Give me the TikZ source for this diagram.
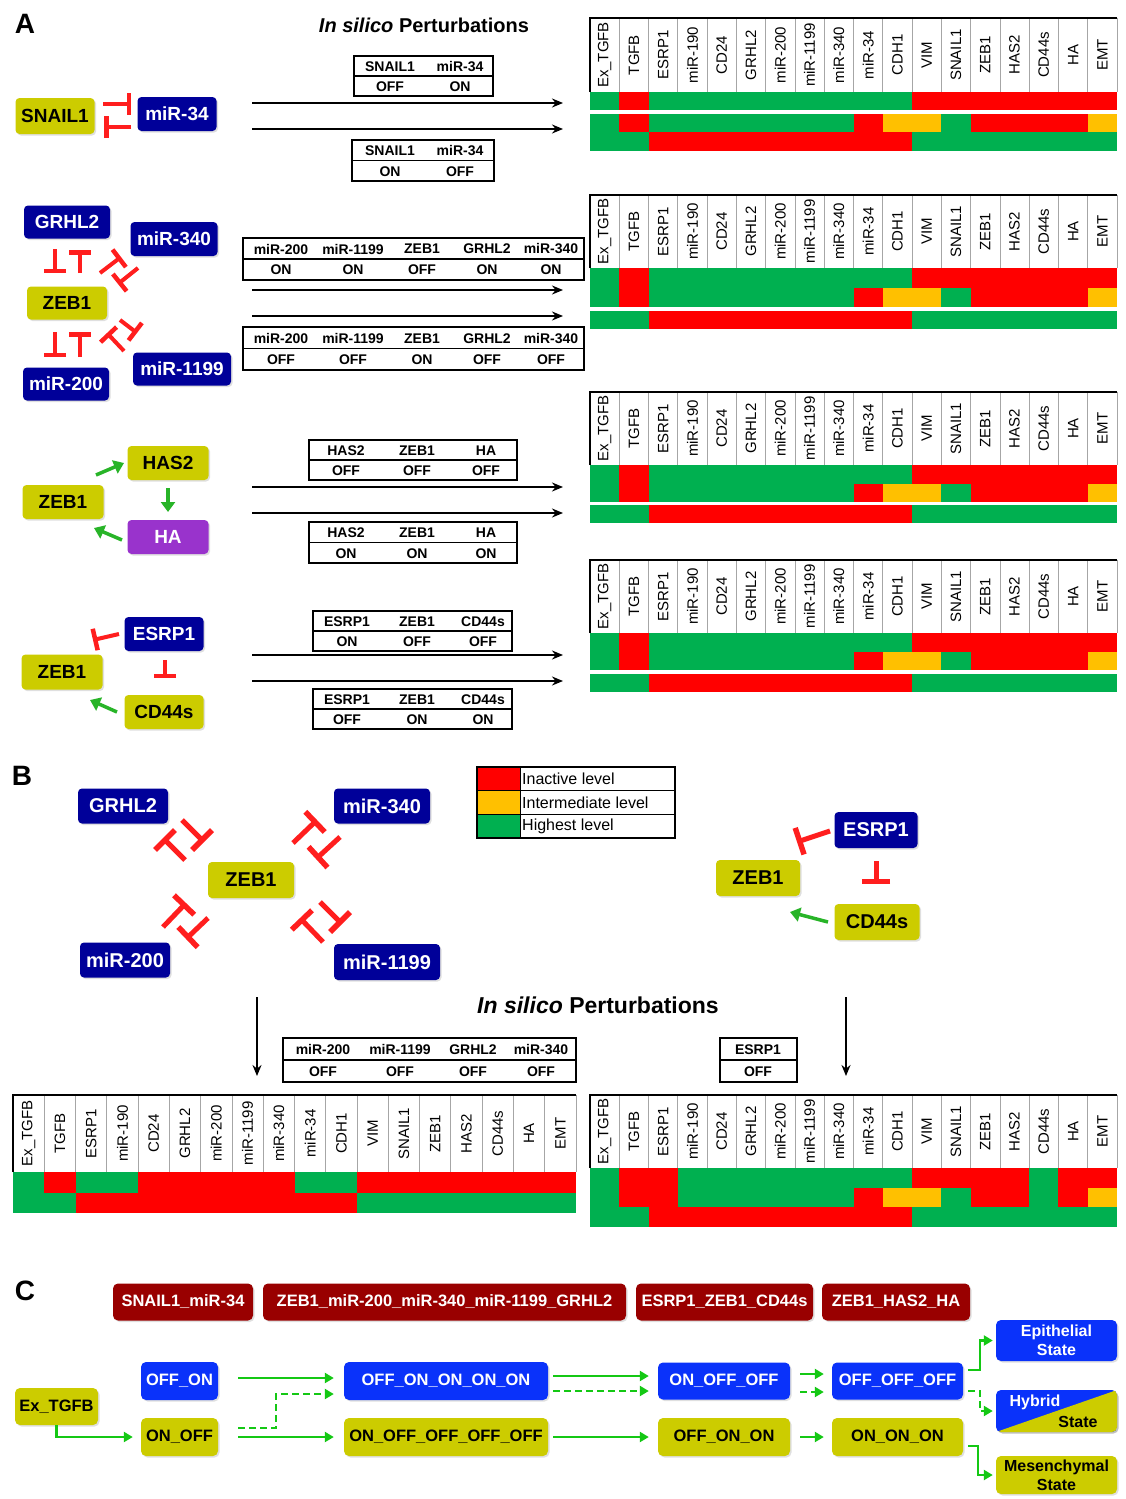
\documentclass[tikz,border=0pt]{standalone}
\usepackage{fontspec}
\setmainfont{Liberation Sans}
\usetikzlibrary{arrows.meta,shadows,calc}
\definecolor{navy}{RGB}{0,0,153}
\definecolor{oliv}{RGB}{204,204,0}
\definecolor{purp}{RGB}{153,51,204}
\definecolor{cblue}{RGB}{10,50,250}
\definecolor{dred}{RGB}{153,0,0}
\definecolor{tred}{RGB}{255,30,30}
\definecolor{agreen}{RGB}{40,180,40}
\definecolor{cgreen}{RGB}{20,200,20}
\definecolor{hmR}{RGB}{255,0,0}
\definecolor{hmO}{RGB}{255,192,0}
\definecolor{hmG}{RGB}{0,176,80}
\newcommand\hmcols{Ex\_TGFB,TGFB,ESRP1,miR-190,CD24,GRHL2,miR-200,miR-1199,miR-340,miR-34,CDH1,VIM,SNAIL1,ZEB1,HAS2,CD44s,HA,EMT}
\newcommand\hmrA{G,R,G,G,G,G,G,G,G,G,G,R,R,R,R,R,R,R}
\newcommand\hmrB{G,R,G,G,G,G,G,G,G,R,O,O,G,R,R,R,R,O}
\newcommand\hmrC{G,G,R,R,R,R,R,R,R,R,R,G,G,G,G,G,G,G}
\newcommand\hmrD{G,R,G,G,R,R,R,R,R,G,G,R,R,R,R,R,R,R}
\newcommand\hmrE{G,R,R,G,G,G,G,G,G,G,G,R,R,R,R,G,R,R}
\newcommand\hmrF{G,R,R,G,G,G,G,G,G,R,O,O,G,R,R,G,R,O}
% header: x0 y0 x1 y1 prefix
\newcommand\hmhead[5]{%
  \pgfmathsetmacro\hmcw{(#3-#1)/18}%
  \foreach \lab [count=\i] in \hmcols {%
    \pgfmathsetmacro\hmx{#1+(\i-0.5)*\hmcw}%
    \node[hdr] (#5h\i) at (\hmx,{(#2+#4)/2}) {\lab};
    \ifnum\i>1 \draw[hmline] ({#1+(\i-1)*\hmcw},#2) -- ({#1+(\i-1)*\hmcw},#4);\fi
  }%
  \draw[hmline] (#3,#2) -- (#3,#4);
  \draw[line width=1.6pt] (#1,#4) -- (#1,#2) -- (#3,#2);
}
% row: x0 x1 ytop ybot colours
\newcommand\hmrow[5]{%
  \pgfmathsetmacro\hmcw{(#2-#1)/18}%
  \foreach \c [count=\i] in #5 {%
    \pgfmathsetmacro\hmxa{#1+(\i-1)*\hmcw}%
    \pgfmathsetmacro\hmxb{min(#1+\i*\hmcw+0.6,#2)}%
    \fill[fill=hm\c] (\hmxa,#3) rectangle (\hmxb,#4);
  }%
}
% table: x0 y0 x1 y1 prefix entries
\newcommand\ptab[6]{%
  \draw[tabline] (#1,#2) rectangle (#3,#4);
  \draw[tabline] (#1,{(#2+#4)/2}) -- (#3,{(#2+#4)/2});
  \foreach \cx/\tp/\bt [count=\i] in {#6} {%
    \node[tabtxt] (#5t\i) at (\cx,{#2+(#4-#2)/4+0.5}) {\tp};
    \node[tabtxt] (#5b\i) at (\cx,{#2+3*(#4-#2)/4+0.5}) {\bt};
  }%
}
\begin{document}
\begin{tikzpicture}[x=1pt,y=-1pt,
  hdr/.style={rotate=90,inner sep=0pt,font=\fontsize{15}{17}\selectfont},
  hmline/.style={draw=gray!70,line width=0.8pt},
  tabline/.style={draw=black,line width=1.3pt},
  tabtxt/.style={inner sep=0pt,font=\fontsize{14}{16}\selectfont\bfseries},
  plab/.style={font=\fontsize{28}{30}\selectfont\bfseries},
  netbase/.style={rounded corners=4pt,inner sep=1pt,font=\fontsize{19}{21}\selectfont\bfseries,
     drop shadow={opacity=.25,shadow xshift=1.5pt,shadow yshift=-1.5pt}},
  nv/.style={netbase,fill=navy,text=white},
  ol/.style={netbase,fill=oliv,text=black},
  pu/.style={netbase,fill=purp,text=white},
  nbB/.style={font=\fontsize{20}{22}\selectfont\bfseries},
  sz/.style 2 args={minimum width=#1,minimum height=#2},
  cbase/.style={rounded corners=5pt,inner sep=1pt,font=\fontsize{16.5}{19}\selectfont\bfseries,
     drop shadow={opacity=.25,shadow xshift=1.5pt,shadow yshift=-1.5pt}},
  cr/.style={cbase,fill=dred,text=white},
  cb/.style={cbase,fill=cblue,text=white},
  co/.style={cbase,fill=oliv,text=black},
  inhA/.style={draw=tred,line width=4pt,-{Bar[width=22pt,line width=4.5pt]}},
  inhB/.style={draw=tred,line width=5pt,-{Bar[width=28pt,line width=5.5pt]}},
  act/.style={draw=agreen,line width=3.5pt,-{Triangle[length=10pt,width=14pt]}},
  parrow/.style={draw=black,line width=1.8pt,-{Stealth[length=11pt,width=9pt]}},
  carrow/.style={draw=cgreen,line width=2.6pt,-{Triangle[length=9pt,width=10pt]}},
  cdash/.style={carrow,dash pattern=on 7pt off 4pt},
  legtxt/.style={anchor=west,inner sep=0pt,font=\fontsize{16}{18}\selectfont}
]
\useasboundingbox (0,0) rectangle (1126,1499);
\fill[white] (0,0) rectangle (1126,1499);

% ---------- panel labels & titles
\node[plab] (labA) at (25,24) {A};
\node[plab] (labB) at (22,776) {B};
\node[plab] (labC) at (25,1291) {C};
\node[font=\fontsize{20}{22}\selectfont\bfseries] (titA) at (424,25) {\textit{In silico} Perturbations};
\node[font=\fontsize{23}{25}\selectfont\bfseries] (titB) at (598,1005) {\textit{In silico} Perturbations};

% ---------- A1
\node[ol,sz={79}{36}] (snail) at (55,116) {SNAIL1};
\node[nv,sz={79}{34}] (mir34) at (177,114) {miR-34};
\draw[inhA] (103,104) -- (131,104);
\draw[inhA] (131,127) -- (104,127);

% ---------- A2
\node[nv,sz={86}{33}] (grhl2) at (67,222) {GRHL2};
\node[nv,sz={87}{34}] (mir340) at (174,239) {miR-340};
\node[ol,sz={80}{33}] (zebA2) at (67,303) {ZEB1};
\node[nv,sz={86}{33}] (mir200) at (66,384) {miR-200};
\node[nv,sz={98}{33}] (mir1199) at (182,369) {miR-1199};
\draw[inhA] (55,249) -- (55,273);
\draw[inhA] (80,273) -- (80,250);
\draw[inhA] (55,332) -- (55,357);
\draw[inhA] (80,357) -- (80,332);
\draw[inhA] (100,273) -- (121,257);
\draw[inhA] (138,268) -- (118,284);
\draw[inhA] (124,351) -- (107,333);
\draw[inhA] (120,320) -- (137,333);

% ---------- A3
\node[ol,sz={81}{34}] (zebA3) at (63,502) {ZEB1};
\node[ol,sz={81}{34}] (has2) at (168,463) {HAS2};
\node[pu,sz={81}{34}] (ha) at (168,537) {HA};
\draw[act] (96,475) -- (124,463);
\draw[act] (168,488) -- (168,512);
\draw[act] (122,540) -- (94,528);

% ---------- A4
\node[ol,sz={81}{35}] (zebA4) at (62,672) {ZEB1};
\node[nv,sz={79}{34}] (esrp) at (164,634) {ESRP1};
\node[ol,sz={79}{34}] (cd44) at (164,712) {CD44s};
\draw[inhA] (119,634) -- (93,640);
\draw[inhA] (165,660) -- (165,678);
\draw[act] (117,712) -- (90,700);

% ---------- A tables and arrows
\ptab{354}{56}{493}{96}{tA}{390/SNAIL1/OFF, 460/miR-34/ON}
\ptab{352}{140}{494}{181}{tB}{390/SNAIL1/ON, 460/miR-34/OFF}
\ptab{243}{238}{584}{280}{tC}{281/miR-200/ON, 353/miR-1199/ON, 422/ZEB1/OFF, 487/GRHL2/ON, 551/miR-340/ON}
\ptab{243}{327}{584}{370}{tD}{281/miR-200/OFF, 353/miR-1199/OFF, 422/ZEB1/ON, 487/GRHL2/OFF, 551/miR-340/OFF}
\ptab{309}{440}{517}{480}{tE}{346/HAS2/OFF, 417/ZEB1/OFF, 486/HA/OFF}
\ptab{309}{522}{517}{563}{tF}{346/HAS2/ON, 417/ZEB1/ON, 486/HA/ON}
\ptab{313}{611}{512}{651}{tG}{347/ESRP1/ON, 417/ZEB1/OFF, 483/CD44s/OFF}
\ptab{313}{689}{512}{729}{tH}{347/ESRP1/OFF, 417/ZEB1/ON, 483/CD44s/ON}
\foreach \yy [count=\k] in {103,129,290,316,487,513,655,681}{
  \coordinate (as\k) at (252,\yy);
  \coordinate (ae\k) at (563,\yy);
  \draw[parrow] (as\k) -- (ae\k);
}

% ---------- A heatmaps
\hmhead{590}{18}{1117}{92}{hA}
\hmrow{590}{1117}{92}{110}{\hmrA}
\hmrow{590}{1117}{114}{132}{\hmrB}
\hmrow{590}{1117}{132}{151}{\hmrC}

\hmhead{590}{195}{1117}{268}{hB}
\hmrow{590}{1117}{268}{288}{\hmrA}
\hmrow{590}{1117}{288}{307}{\hmrB}
\hmrow{590}{1117}{311}{329}{\hmrC}

\hmhead{590}{392}{1117}{465}{hC}
\hmrow{590}{1117}{465}{484}{\hmrA}
\hmrow{590}{1117}{484}{502}{\hmrB}
\hmrow{590}{1117}{505}{523}{\hmrC}

\hmhead{590}{560}{1117}{633}{hD}
\hmrow{590}{1117}{633}{652}{\hmrA}
\hmrow{590}{1117}{652}{670}{\hmrB}
\hmrow{590}{1117}{674}{692}{\hmrC}

% ---------- B network
\node[nv,nbB,sz={90}{35}] (grhlB) at (123,806) {GRHL2};
\node[nv,nbB,sz={96}{35}] (m340B) at (382,806) {miR-340};
\node[ol,nbB,sz={86}{36}] (zebB) at (251,880) {ZEB1};
\node[nv,nbB,sz={90}{35}] (m200B) at (125,960) {miR-200};
\node[nv,nbB,sz={106}{36}] (m1199B) at (387,962) {miR-1199};
\draw[inhB] (185,860) -- (163,838);
\draw[inhB] (182,820) -- (204,842);
\draw[inhB] (293,843) -- (317,820);
\draw[inhB] (340,837) -- (316,859);
\draw[inhB] (163,927) -- (186,903);
\draw[inhB] (208,918) -- (186,939);
\draw[inhB] (323,942) -- (300,918);
\draw[inhB] (320,902) -- (342,924);

% legend
\fill[hmR] (478,768) rectangle (520,790.5);
\fill[hmO] (478,790.5) rectangle (520,814);
\fill[hmG] (478,814) rectangle (520,837);
\draw[line width=1pt] (477,790.5) -- (675,790.5) (477,814) -- (675,814) (520,767) -- (520,838);
\draw[line width=1.6pt] (477,767) rectangle (675,838);
\node[legtxt] (lg1) at (522,779) {Inactive level};
\node[legtxt] (lg2) at (522,802.5) {Intermediate level};
\node[legtxt] (lg3) at (522,826) {Highest level};

% B right network
\node[ol,nbB,sz={84}{36}] (zebBR) at (758,878) {ZEB1};
\node[nv,nbB,sz={83}{36}] (esrpBR) at (876,830) {ESRP1};
\node[ol,nbB,sz={85}{36}] (cd44BR) at (877,922) {CD44s};
\draw[inhB] (830,831) -- (797,842);
\draw[inhB] (876,861) -- (876,884);
\draw[act] (828,922) -- (790,912);

% B arrows, tables, heatmaps
\coordinate (bd1s) at (257,997); \coordinate (bd1e) at (257,1076);
\coordinate (bd2s) at (846,997); \coordinate (bd2e) at (846,1076);
\draw[parrow] (bd1s) -- (bd1e);
\draw[parrow] (bd2s) -- (bd2e);
\ptab{283}{1038}{576}{1082}{tI}{323/miR-200/OFF, 400/miR-1199/OFF, 473/GRHL2/OFF, 541/miR-340/OFF}
\ptab{720}{1038}{797}{1082}{tJ}{758/ESRP1/OFF}

\hmhead{13}{1095}{576}{1172}{hE}
\hmrow{13}{576}{1172}{1193}{\hmrD}
\hmrow{13}{576}{1193}{1213}{\hmrC}

\hmhead{590}{1095}{1117}{1168}{hF}
\hmrow{590}{1117}{1168}{1188}{\hmrE}
\hmrow{590}{1117}{1188}{1207}{\hmrF}
\hmrow{590}{1117}{1207}{1227}{\hmrC}

% ---------- C
\node[cr,sz={140}{37}] (c1) at (183,1302) {SNAIL1\_miR-34};
\node[cr,sz={363}{37}] (c2) at (444.5,1302) {ZEB1\_miR-200\_miR-340\_miR-1199\_GRHL2};
\node[cr,sz={177}{37}] (c3) at (724.5,1302) {ESRP1\_ZEB1\_CD44s};
\node[cr,sz={148}{37}] (c4) at (896,1302) {ZEB1\_HAS2\_HA};

\node[cb,sz={77}{38}] (offon) at (179.5,1381) {OFF\_ON};
\node[cb,sz={204}{38}] (b2) at (446,1381) {OFF\_ON\_ON\_ON\_ON};
\node[cb,sz={132}{37}] (b3) at (724,1381) {ON\_OFF\_OFF};
\node[cb,sz={131}{37}] (b4) at (897.5,1381) {OFF\_OFF\_OFF};
\node[co,sz={83}{37}] (extgfb) at (56.5,1406.5) {Ex\_TGFB};
\node[co,sz={77}{38}] (onoff) at (179.5,1437) {ON\_OFF};
\node[co,sz={204}{38}] (o2) at (446,1437) {ON\_OFF\_OFF\_OFF\_OFF};
\node[co,sz={132}{38}] (o3) at (724,1437) {OFF\_ON\_ON};
\node[co,sz={131}{38}] (o4) at (897.5,1437) {ON\_ON\_ON};

\node[cb,sz={121}{41},align=center,font=\fontsize{16}{19}\selectfont\bfseries] (epi) at (1056.5,1340.5) {Epithelial\\State};
\node[co,sz={121}{38},align=center,font=\fontsize{16}{19}\selectfont\bfseries] (mes) at (1056.5,1475) {Mesenchymal\\State};
\fill[black,opacity=.25,rounded corners=5pt] (997.5,1391.5) rectangle (1118.5,1433.5);
\begin{scope}
\clip[rounded corners=5pt] (996,1390) rectangle (1117,1432);
\fill[cblue] (996,1390) rectangle (1117,1432);
\fill[oliv] (996,1432) -- (1117,1390) -- (1117,1432) -- cycle;
\end{scope}
\node[sz={121}{42},inner sep=0pt] (hyb) at (1056.5,1411) {};
\node[text=white,font=\fontsize{16}{19}\selectfont\bfseries,inner sep=0pt] (hybT) at (1035,1402) {Hybrid};
\node[text=black,font=\fontsize{16}{19}\selectfont\bfseries,inner sep=0pt] (hybS) at (1078,1422) {State};

\draw[carrow] ($(offon.east)+(20,-3)$) -- ($(b2.west)+(-10,-3)$);
\draw[cdash] ($(onoff.east)+(20,-9)$) -| ($(b2.west)+(-68,13)$) -- ($(b2.west)+(-10,13)$);
\draw[carrow] ($(onoff.east)+(20,0)$) -- ($(o2.west)+(-10,0)$);
\draw[carrow] (extgfb.south) |- ($(onoff.west)+(-8,0)$);
\draw[carrow] ($(b2.east)+(5,-5)$) -- ($(b3.west)+(-9,-5)$);
\draw[cdash] ($(b2.east)+(5,10)$) -- ($(b3.west)+(-9,10)$);
\draw[carrow] ($(o2.east)+(5,0)$) -- ($(o3.west)+(-9,0)$);
\draw[carrow] ($(b3.east)+(10,-7)$) -- ($(b4.west)+(-8,-7)$);
\draw[cdash] ($(b3.east)+(10,11)$) -- ($(b4.west)+(-8,11)$);
\draw[carrow] ($(o3.east)+(10,0)$) -- ($(o4.west)+(-8,0)$);
\draw[carrow] ($(b4.east)+(5,-11)$) -| ($(epi.west)+(-16,0)$) -- ($(epi.west)+(-3,0)$);
\draw[cdash] ($(b4.east)+(5,10)$) -| ($(hyb.west)+(-16,0)$) -- ($(hyb.west)+(-3,0)$);
\draw[carrow] ($(o4.east)+(5,9)$) -| ($(mes.west)+(-18,0)$) -- ($(mes.west)+(-3,0)$);
\end{tikzpicture}
\end{document}
